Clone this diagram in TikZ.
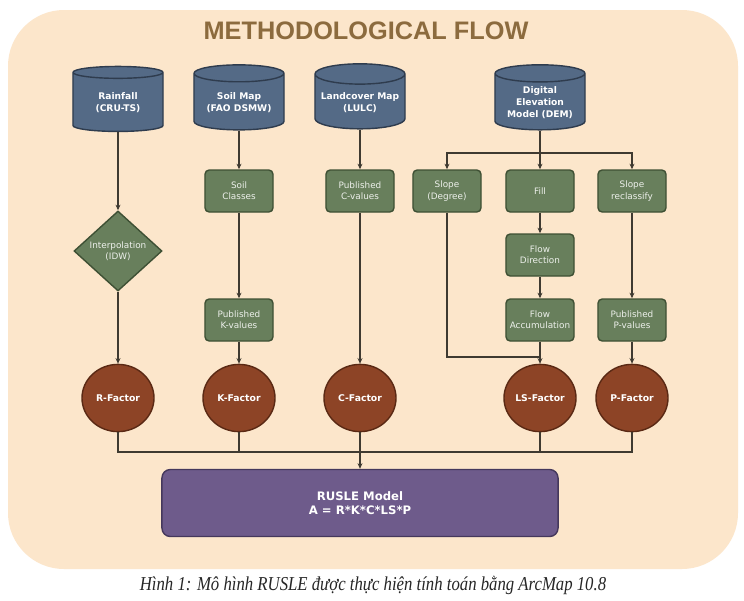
\documentclass[tikz,border=0pt]{standalone}
\usepackage{fontspec}
\setmainfont{DejaVu Sans}
\newfontfamily\titlefont{Liberation Sans}
\newfontfamily\capfont[FakeStretch=0.85]{Liberation Serif}
\usetikzlibrary{shapes.geometric,arrows.meta}

\definecolor{peach}{HTML}{FCE6CB}
\definecolor{titlebrown}{HTML}{8C6B3E}
\definecolor{slate}{HTML}{546A86}
\definecolor{slatedark}{HTML}{2F3C4E}
\definecolor{sage}{HTML}{687F5C}
\definecolor{sagedark}{HTML}{3E5034}
\definecolor{rust}{HTML}{8D4426}
\definecolor{rustdark}{HTML}{5A2914}
\definecolor{plum}{HTML}{6E5B8B}
\definecolor{plumdark}{HTML}{45385C}
\definecolor{wirecol}{HTML}{3F3A31}

\tikzset{
  datasrc/.style={cylinder, shape border rotate=90, aspect=0.25,
    fill=slate, draw=slatedark, line width=1pt,
    minimum width=2.25cm, minimum height=1.625cm, inner sep=1pt,
    text=white, align=center, font=\bfseries\fontsize{6.5}{8.5}\selectfont},
  proc/.style={rectangle, rounded corners=3pt, fill=sage, draw=sagedark,
    line width=1pt, minimum width=1.7cm, minimum height=1.05cm,
    inner xsep=1pt, text=white!88!sage, align=center,
    font=\fontsize{6.3}{8}\selectfont},
  decide/.style={diamond, aspect=1.1, fill=sage, draw=sagedark, line width=1pt,
    minimum width=2.2cm, minimum height=2cm, inner sep=0pt,
    text=white!88!sage, align=center, font=\fontsize{6.3}{8}\selectfont},
  factor/.style={ellipse, fill=rust, draw=rustdark, line width=1pt,
    minimum width=1.8cm, minimum height=1.68cm, inner sep=0pt,
    text=white, font=\bfseries\fontsize{6.6}{8}\selectfont},
  model/.style={rectangle, rounded corners=6pt, fill=plum, draw=plumdark,
    line width=1pt, minimum width=9.9cm, minimum height=1.675cm,
    text=white, align=center, font=\bfseries\fontsize{8.3}{10}\selectfont},
  wire/.style={draw=wirecol, line width=0.8pt},
  flow/.style={wire, -{Stealth[length=4pt,width=3.5pt]}}
}

\begin{document}
\begin{tikzpicture}[x=0.025cm, y=-0.025cm]
  \useasboundingbox (0,0) rectangle (744,600);
  \fill[white] (0,0) rectangle (744,600);
  \fill[peach, rounded corners=1.4cm] (8,10) rectangle (738,569);
  \node[font=\titlefont\bfseries\fontsize{18}{20}\selectfont, text=titlebrown]
    (title) at (366,31) {METHODOLOGICAL FLOW};

  % inputs
  \node[datasrc] (rain) at (118,103) {Rainfall\\(CRU-TS)};
  \node[datasrc] (soil) at (239,103) {Soil Map\\(FAO DSMW)};
  \node[datasrc] (lulc) at (360,103) {Landcover Map\\(LULC)};
  \node[datasrc] (dem) at (540,103) {Digital\\Elevation\\Model (DEM)};

  % processing steps
  \node[decide] (idw) at (118,251) {Interpolation\\(IDW)};
  \node[proc] (soilcls) at (239,191) {Soil\\Classes};
  \node[proc] (kval) at (239,320) {Published\\K-values};
  \node[proc] (cval) at (360,191) {Published\\C-values};
  \node[proc] (slpdeg) at (447,191) {Slope\\(Degree)};
  \node[proc] (fill) at (540,191) {Fill};
  \node[proc] (flowdir) at (540,255) {Flow\\Direction};
  \node[proc] (flowacc) at (540,320) {Flow\\Accumulation};
  \node[proc] (slprc) at (632,191) {Slope\\reclassify};
  \node[proc] (pval) at (632,320) {Published\\P-values};

  % factors
  \foreach \x/\id/\txt in {118/R/R-Factor, 239/K/K-Factor, 360/C/C-Factor,
                           540/LS/LS-Factor, 632/P/P-Factor}
    \node[factor] (\id) at (\x,398) {\txt};

  \node[model] (rusle) at (360,503) {RUSLE Model\\A = R*K*C*LS*P};

  \coordinate (split) at (540,153);
  \coordinate (lsjoin) at (540,357);
  \coordinate (busL) at (118,452);
  \coordinate (busR) at (632,452);

  \draw[flow] (rain) -- (idw);
  \draw[flow] (idw) -- (R);
  \draw[flow] (soil) -- (soilcls);
  \draw[flow] (soilcls) -- (kval);
  \draw[flow] (kval) -- (K);
  \draw[flow] (lulc) -- (cval);
  \draw[flow] (cval) -- (C);
  \draw[flow] (dem) -- (fill);
  \draw[flow] (split) -| (slpdeg);
  \draw[flow] (split) -| (slprc);
  \draw[flow] (fill) -- (flowdir);
  \draw[flow] (flowdir) -- (flowacc);
  \draw[flow] (flowacc) -- (LS);
  \draw[wire] (slpdeg) |- (lsjoin);
  \draw[flow] (slprc) -- (pval);
  \draw[flow] (pval) -- (P);
  \draw[wire] (R) -- (busL) -- (busR) -- (P);
  \draw[wire] (K) -- (K |- busL);
  \draw[wire] (LS) -- (LS |- busL);
  \draw[flow] (C) -- (rusle);

  \node[font=\capfont\itshape\fontsize{14}{16}\selectfont, text=black!85]
    (caption) at (373,585)
    {Hình 1: Mô hình RUSLE được thực hiện tính toán bằng ArcMap 10.8};
\end{tikzpicture}
\end{document}
